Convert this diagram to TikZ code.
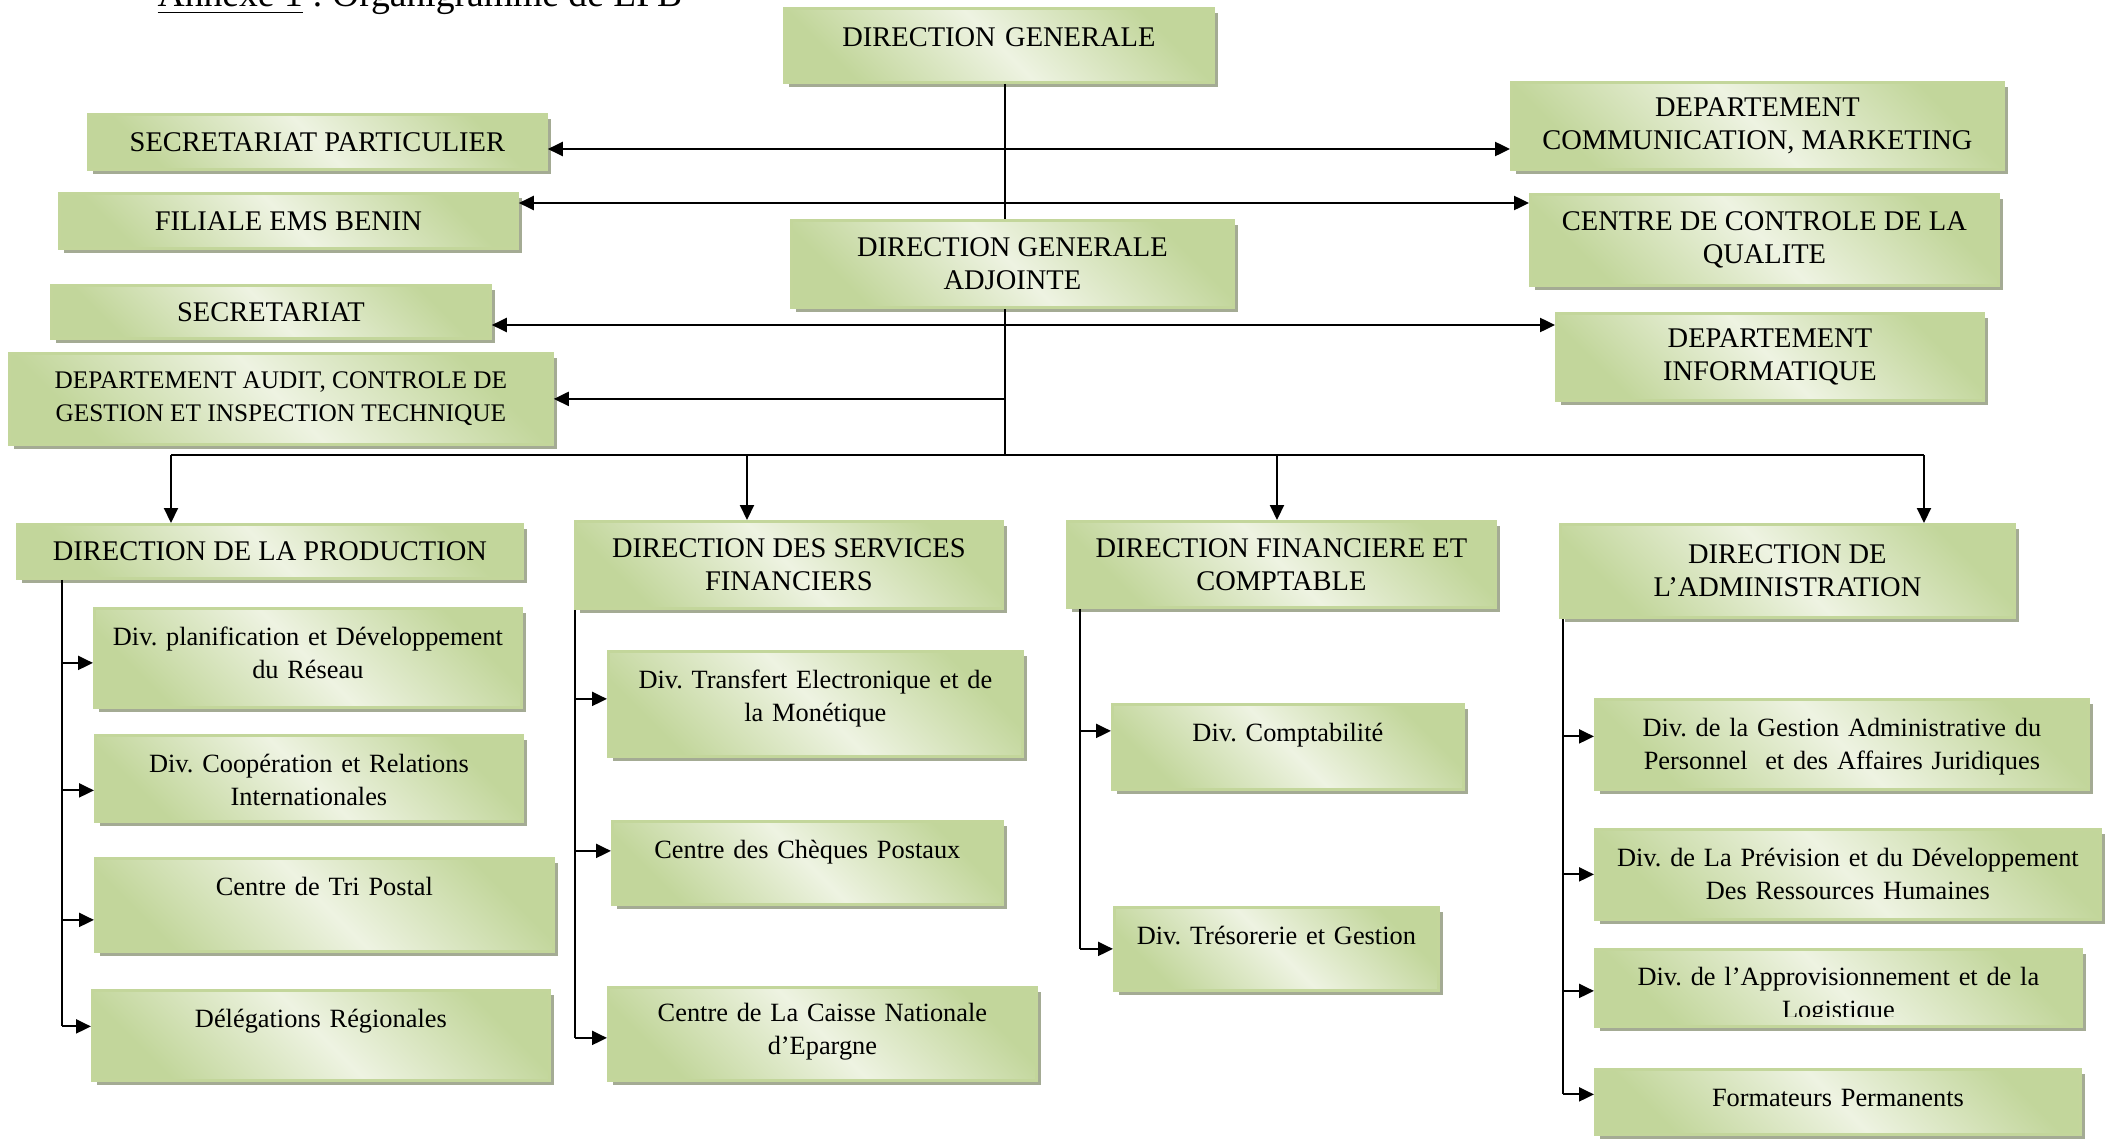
\documentclass[tikz,border=0pt]{standalone}
\usepackage{fontspec}
\setmainfont{Liberation Serif}
\usetikzlibrary{arrows.meta, shadows}
\definecolor{orgdark}{HTML}{C2D69B}
\definecolor{orglight}{HTML}{EEF3E2}
\definecolor{orgedge}{HTML}{C3D69B}
\definecolor{orgshade}{HTML}{A4AB94}
\newcommand{\orgcaps}{\fontsize{8.1}{9.4}\selectfont}
\newcommand{\orglow}{\fontsize{7.5}{9.35}\selectfont}
\frenchspacing

\begin{document}
\begin{tikzpicture}
    [
        x=0.1mm, y=-0.1mm,
        unit/.style={anchor=north west, draw=orgedge, line width=0.8pt, left color=orgdark, right color=orgdark, middle color=orglight, shading angle=-45, drop shadow={shadow xshift=0.45mm, shadow yshift=-0.45mm, fill=orgshade, opacity=1}, align=center, inner sep=0pt},
        head/.style={unit, font=\orgcaps},
        sub/.style={unit, font=\orglow, text height=3.7mm},
        link/.style={line width=0.6pt, -{Triangle[length=1.5mm, width=1.4mm]}},
        twoway/.style={line width=0.7pt, {Triangle[length=1.5mm, width=1.4mm]}-{Triangle[length=1.5mm, width=1.4mm]}},
        trunk/.style={line width=0.45pt},
        rail/.style={line width=0.6pt},
    ]
        \useasboundingbox (0,0) rectangle (2107,1139);
        \begin{scope}
            \clip (0,0) rectangle (2107,1139);
            \node[anchor=base west, inner sep=0pt, font=\fontsize{10.7}{12}\selectfont] (title) at (157,7) {\underline{Annexe 1} : Organigramme de LPB};
        \end{scope}

        \node[sub, font=\orgcaps, text height=3.8mm, text width=42.9mm, text depth=3.6mm] (dg) at (783,7) {DIRECTION GENERALE};
        \node[head, minimum width=45.8mm, minimum height=5.5mm] (secpart) at (87,113) {SECRETARIAT PARTICULIER};
        \node[head, minimum width=45.8mm, minimum height=5.5mm] (filiale) at (58,192) {FILIALE EMS BENIN};
        \node[head, minimum width=43.9mm, minimum height=5.3mm] (secr) at (50,284) {SECRETARIAT};
        \node[head, minimum width=54.3mm, minimum height=9.1mm, font=\fontsize{7.2}{9.4}\selectfont] (audit) at (8,352) {DEPARTEMENT AUDIT, CONTROLE DE\\GESTION ET INSPECTION TECHNIQUE};
        \node[head, minimum width=44.2mm, minimum height=8.7mm] (dga) at (790,219) {DIRECTION GENERALE\\ADJOINTE};
        \node[head, minimum width=49.2mm, minimum height=8.7mm] (dcm) at (1510,81) {DEPARTEMENT\\COMMUNICATION, MARKETING};
        \node[head, minimum width=46.8mm, minimum height=9.1mm] (ccq) at (1529,193) {CENTRE DE CONTROLE DE LA\\QUALITE};
        \node[head, minimum width=42.7mm, minimum height=8.7mm] (dinf) at (1555,312) {DEPARTEMENT\\INFORMATIQUE};

        \node[head, minimum width=50.5mm, minimum height=5.4mm] (dp) at (16,523) {DIRECTION DE LA PRODUCTION};
        \node[head, minimum width=42.7mm, minimum height=8.7mm] (dsf) at (574,520) {DIRECTION DES SERVICES\\FINANCIERS};
        \node[head, minimum width=42.8mm, minimum height=8.6mm] (dfc) at (1066,520) {DIRECTION FINANCIERE ET\\COMPTABLE};
        \node[head, minimum width=45.4mm, minimum height=9.3mm] (da) at (1559,523) {DIRECTION DE\\L’ADMINISTRATION};

        \node[sub, text width=42.7mm, text depth=6.2mm] (planif) at (93,607) {Div. planification et Développement\\du Réseau};
        \node[sub, text width=42.7mm, text depth=4.9mm] (coop) at (94,734) {Div. Coopération et Relations\\Internationales};
        \node[sub, text width=45.8mm, text depth=5.6mm] (tri) at (94,857) {Centre de Tri Postal};
        \node[sub, text width=45.7mm, text depth=5.3mm] (deleg) at (91,989) {Délégations Régionales};

        \node[sub, text width=41.4mm, text depth=6.8mm] (transf) at (607,650) {Div. Transfert Electronique et de\\la Monétique};
        \node[sub, text width=39.0mm, text depth=4.6mm] (cheques) at (611,820) {Centre des Chèques Postaux};
        \node[sub, text width=42.8mm, text height=3.4mm, text depth=5.9mm] (caisse) at (607,986) {Centre de La Caisse Nationale\\d’Epargne};

        \node[sub, text width=35.1mm, text depth=4.8mm] (compta) at (1111,703) {Div. Comptabilité};
        \node[sub, text width=32.4mm, text depth=4.6mm] (treso) at (1113,906) {Div. Trésorerie et Gestion};

        \node[sub, text width=49.3mm, text depth=5.3mm] (gest) at (1594,698) {Div. de la Gestion Administrative du\\Personnel~ et des Affaires Juridiques};
        \node[sub, text width=50.5mm, text depth=5.3mm] (prev) at (1594,828) {Div. de La Prévision et du Développement\\Des Ressources Humaines};
        \node[sub, text width=48.6mm, text depth=4.0mm] (appro) at (1594,948) {};
        \begin{scope}
            \clip (appro.north west) rectangle ([yshift=1.1mm]appro.south east);
            \node[anchor=north, inner sep=0pt, font=\orglow, align=center, text width=48.6mm, text height=3.7mm] (approtext) at (appro.north) {Div. de l’Approvisionnement et de la\\Logistique};
        \end{scope}
        \node[sub, text width=48.5mm, text depth=2.8mm] (form) at (1594,1068) {Formateurs Permanents};

        \coordinate (sp) at (1005,0);
        \coordinate (r1) at (0,149);
        \coordinate (r2) at (0,203);
        \coordinate (r3) at (0,325);
        \coordinate (b1) at (171,455);
        \coordinate (b2) at (747,455);
        \coordinate (b3) at (1277,455);
        \coordinate (b4) at (1924,455);
        \coordinate (v1) at (62,0);
        \coordinate (v2) at (575,0);
        \coordinate (v3) at (1080,0);
        \coordinate (v4) at (1563,0);

        \draw[trunk] (dg.south -| sp) -- (dga.north -| sp);
        \draw[trunk] (dga.south -| sp) -- (sp |- b1);
        \draw[twoway] (secpart.east |- r1) -- (dcm.west |- r1);
        \draw[twoway] (filiale.east |- r2) -- (ccq.west |- r2);
        \draw[twoway] (secr.east |- r3) -- (dinf.west |- r3);
        \draw[link] (audit.east -| sp) -- (audit.east);

        \draw[rail] (b1) -- (b4);
        \draw[link] (b1) -- (b1 |- dp.north);
        \draw[link] (b2) -- (b2 |- dsf.north);
        \draw[link] (b3) -- (b3 |- dfc.north);
        \draw[link] (b4) -- (b4 |- da.north);

        \draw[rail] (v1 |- dp.south) -- ([yshift=0.9mm]deleg.west -| v1);
        \draw[link] ([yshift=-0.5mm]planif.west -| v1) -- ([yshift=-0.5mm]planif.west);
        \draw[link] ([yshift=-1.2mm]coop.west -| v1) -- ([yshift=-1.2mm]coop.west);
        \draw[link] ([yshift=-1.5mm]tri.west -| v1) -- ([yshift=-1.5mm]tri.west);
        \draw[link] ([yshift=0.9mm]deleg.west -| v1) -- ([yshift=0.9mm]deleg.west);

        \draw[rail] (v2 |- dsf.south) -- ([yshift=-0.4mm]caisse.west -| v2);
        \draw[link] ([yshift=0.5mm]transf.west -| v2) -- ([yshift=0.5mm]transf.west);
        \draw[link] ([yshift=1.2mm]cheques.west -| v2) -- ([yshift=1.2mm]cheques.west);
        \draw[link] ([yshift=-0.4mm]caisse.west -| v2) -- ([yshift=-0.4mm]caisse.west);

        \draw[rail] (v3 |- dfc.south) -- (treso.west -| v3);
        \draw[link] ([yshift=1.6mm]compta.west -| v3) -- ([yshift=1.6mm]compta.west);
        \draw[link] (treso.west -| v3) -- (treso.west);

        \draw[rail] (v4 |- da.south) -- ([yshift=0.75mm]form.west -| v4);
        \draw[link] ([yshift=0.8mm]gest.west -| v4) -- ([yshift=0.8mm]gest.west);
        \draw[link] (prev.west -| v4) -- (prev.west);
        \draw[link] ([yshift=-0.3mm]appro.west -| v4) -- ([yshift=-0.3mm]appro.west);
        \draw[link] ([yshift=0.75mm]form.west -| v4) -- ([yshift=0.75mm]form.west);
    \end{tikzpicture}
\end{document}
